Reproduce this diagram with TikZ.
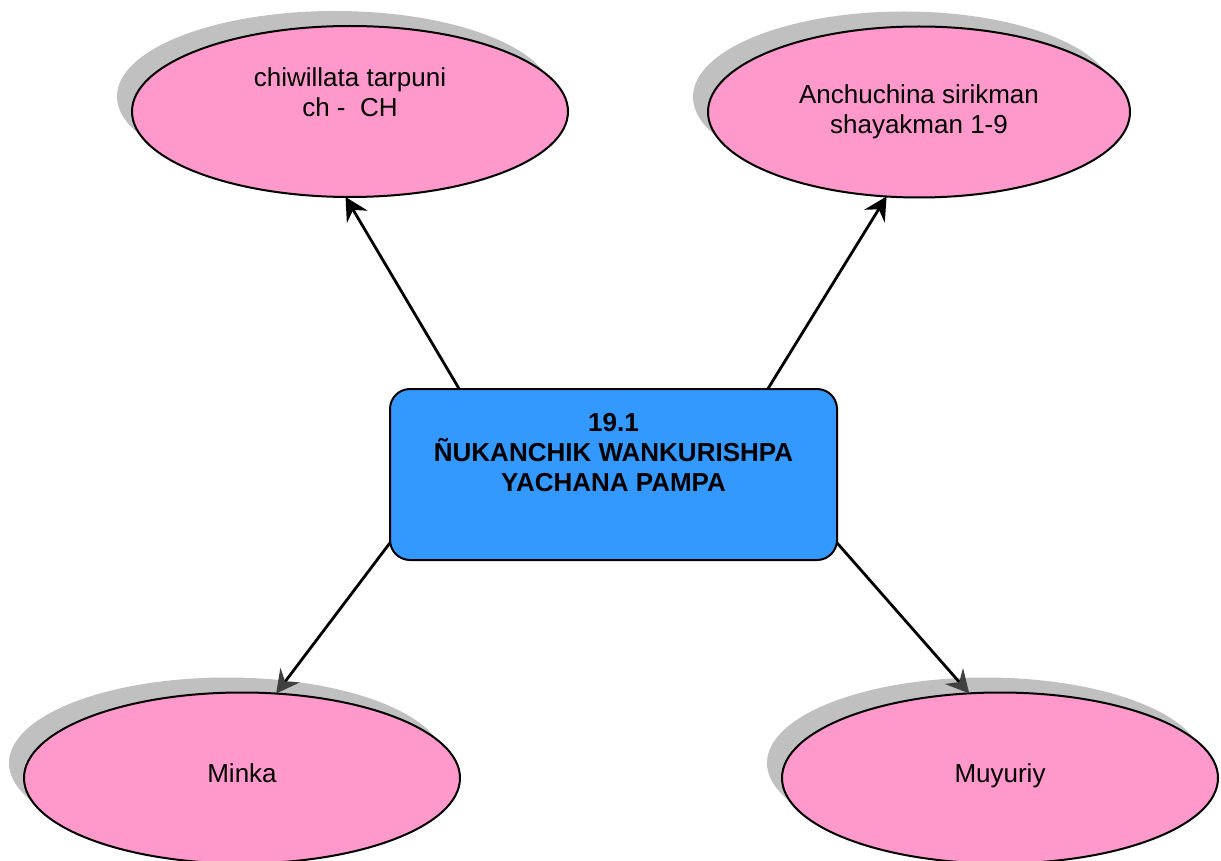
\documentclass[tikz,border=0pt]{standalone}
\usepackage{fontspec}
\setmainfont{Liberation Sans}
\usetikzlibrary{shapes.geometric,shadows,arrows.meta}

\definecolor{leafpink}{HTML}{FF99CC}
\definecolor{hubblue}{HTML}{3399FF}
\definecolor{shadowgray}{HTML}{C0C0C0}

\tikzset{
  leaf/.style={ellipse, draw, line width=2pt, fill=leafpink,
    inner sep=0pt, outer sep=0pt, minimum width=436pt, minimum height=171pt,
    align=center, font=\fontsize{26}{30}\selectfont,
    drop shadow={shadow xshift=-15pt, shadow yshift=15pt, fill=shadowgray, opacity=1}},
  hub/.style={rectangle, rounded corners=20pt, draw, line width=2pt, fill=hubblue,
    inner sep=0pt, outer sep=0pt, minimum width=447pt, minimum height=171pt,
    align=center, font=\bfseries\fontsize{26}{30}\selectfont},
  link/.style={line width=2.8pt, -{Stealth[length=23pt, width=24pt, inset=8pt]}},
  dimlink/.style={line width=2.8pt, -{Stealth[length=23pt, width=24pt, inset=8pt, color=black!75]}},
}

\begin{document}
\begin{tikzpicture}[x=1pt, y=-1pt]
      \useasboundingbox (0,0) rectangle (1221,861);
      \draw
        (613.5,474.5) node[hub] (hub){19.1\\ÑUKANCHIK WANKURISHPA\\YACHANA PAMPA\\[14pt]\mbox{}}
        (350,111.5) node[leaf] (chiwillata){chiwillata tarpuni\\ch -~~CH\\[9pt]\mbox{}}
        (919,112) node[leaf, minimum width=422pt] (anchuchina){Anchuchina sirikman\\shayakman 1-9}
        (242,778) node[leaf] (minka){Minka\\[-20pt]\mbox{}}
        (1000,778) node[leaf] (muyuriy){Muyuriy\\[-20pt]\mbox{}};
      \begin{scope}[link]
        \draw (hub.151) to (chiwillata.267);
        \draw (hub.29) to (anchuchina.249);
      \end{scope}
      \begin{scope}[dimlink]
        \draw (hub.197) to (minka.68);
        \draw (hub.343) to (muyuriy.110);
      \end{scope}
    \end{tikzpicture}
\end{document}
